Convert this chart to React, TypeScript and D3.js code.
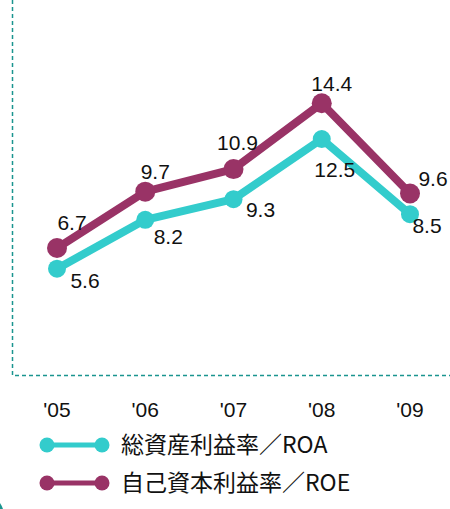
import React from "react";
import * as d3 from "d3";

const years = ["'05", "'06", "'07", "'08", "'09"];
const roa = [5.6, 8.2, 9.3, 12.5, 8.5];
const roe = [6.7, 9.7, 10.9, 14.4, 9.6];
const seriesNames = ["総資産利益率／ROA", "自己資本利益率／ROE"];

const ROA_COLOR = "#33cccc";
const ROE_COLOR = "#993366";
const BORDER = "#1a958f";

const roeLabelOffsets: [number, number][] = [[15, -18], [10, -13], [4, -19], [10, -12], [23, -8]];
const roaLabelOffsets: [number, number][] = [[28, 19], [23, 24], [27, 18], [13, 38], [17, 19]];

export default function App() {
  const W = 450, H = 509;
  const x = d3.scalePoint<string>().domain(years).range([57, 410]);
  const y = d3.scaleLinear().domain([0, 20]).range([374, -2]);
  const line = d3.line<number>().x((_, i) => x(years[i])!).y((d) => y(d));
  const font = "'Liberation Sans', Arial, sans-serif";
  const fs = 21;

  return (
    <svg width={W} height={H} style={{ position: "absolute", left: 0, top: 0 }}>
      <rect width={W} height={H} fill="#fff" />
      <path d={`M12.5,0 V375.5 H450`} fill="none" stroke={BORDER} strokeWidth={1.5} strokeDasharray="4,3" />
      <path d="M0,503 Q2,506 3,509 L0,509 Z" fill={BORDER} />
      <path d={line(roa)!} fill="none" stroke={ROA_COLOR} strokeWidth={8} strokeLinejoin="round" />
      <path d={line(roe)!} fill="none" stroke={ROE_COLOR} strokeWidth={8} strokeLinejoin="round" />
      {roa.map((v, i) => (
        <circle key={"a" + i} cx={x(years[i])} cy={y(v)} r={9} fill={ROA_COLOR} />
      ))}
      {roe.map((v, i) => (
        <circle key={"e" + i} cx={x(years[i])} cy={y(v)} r={10} fill={ROE_COLOR} />
      ))}
      {roe.map((v, i) => (
        <text key={"le" + i} x={x(years[i])! + roeLabelOffsets[i][0]} y={y(v) + roeLabelOffsets[i][1]}
          textAnchor="middle" fontFamily={font} fontSize={fs} fill="#111">{v.toFixed(1)}</text>
      ))}
      {roa.map((v, i) => (
        <text key={"la" + i} x={x(years[i])! + roaLabelOffsets[i][0]} y={y(v) + roaLabelOffsets[i][1]}
          textAnchor="middle" fontFamily={font} fontSize={fs} fill="#111">{v.toFixed(1)}</text>
      ))}
      {years.map((yr) => (
        <text key={yr} x={x(yr)} y={417} textAnchor="middle" fontFamily={font} fontSize={fs} fill="#111">{yr}</text>
      ))}
      {seriesNames.map((name, i) => {
        const cy = 445 + i * 38;
        const c = i === 0 ? ROA_COLOR : ROE_COLOR;
        return (
          <g key={name}>
            <line x1={47} x2={102} y1={cy} y2={cy} stroke={c} strokeWidth={5} />
            <circle cx={47} cy={cy} r={7.5} fill={c} />
            <circle cx={102} cy={cy} r={7.5} fill={c} />
            <text x={121} y={cy + 8} fontFamily={"'Noto Sans CJK JP', " + font} fontSize={23} fill="#111">{name}</text>
          </g>
        );
      })}
    </svg>
  );
}
